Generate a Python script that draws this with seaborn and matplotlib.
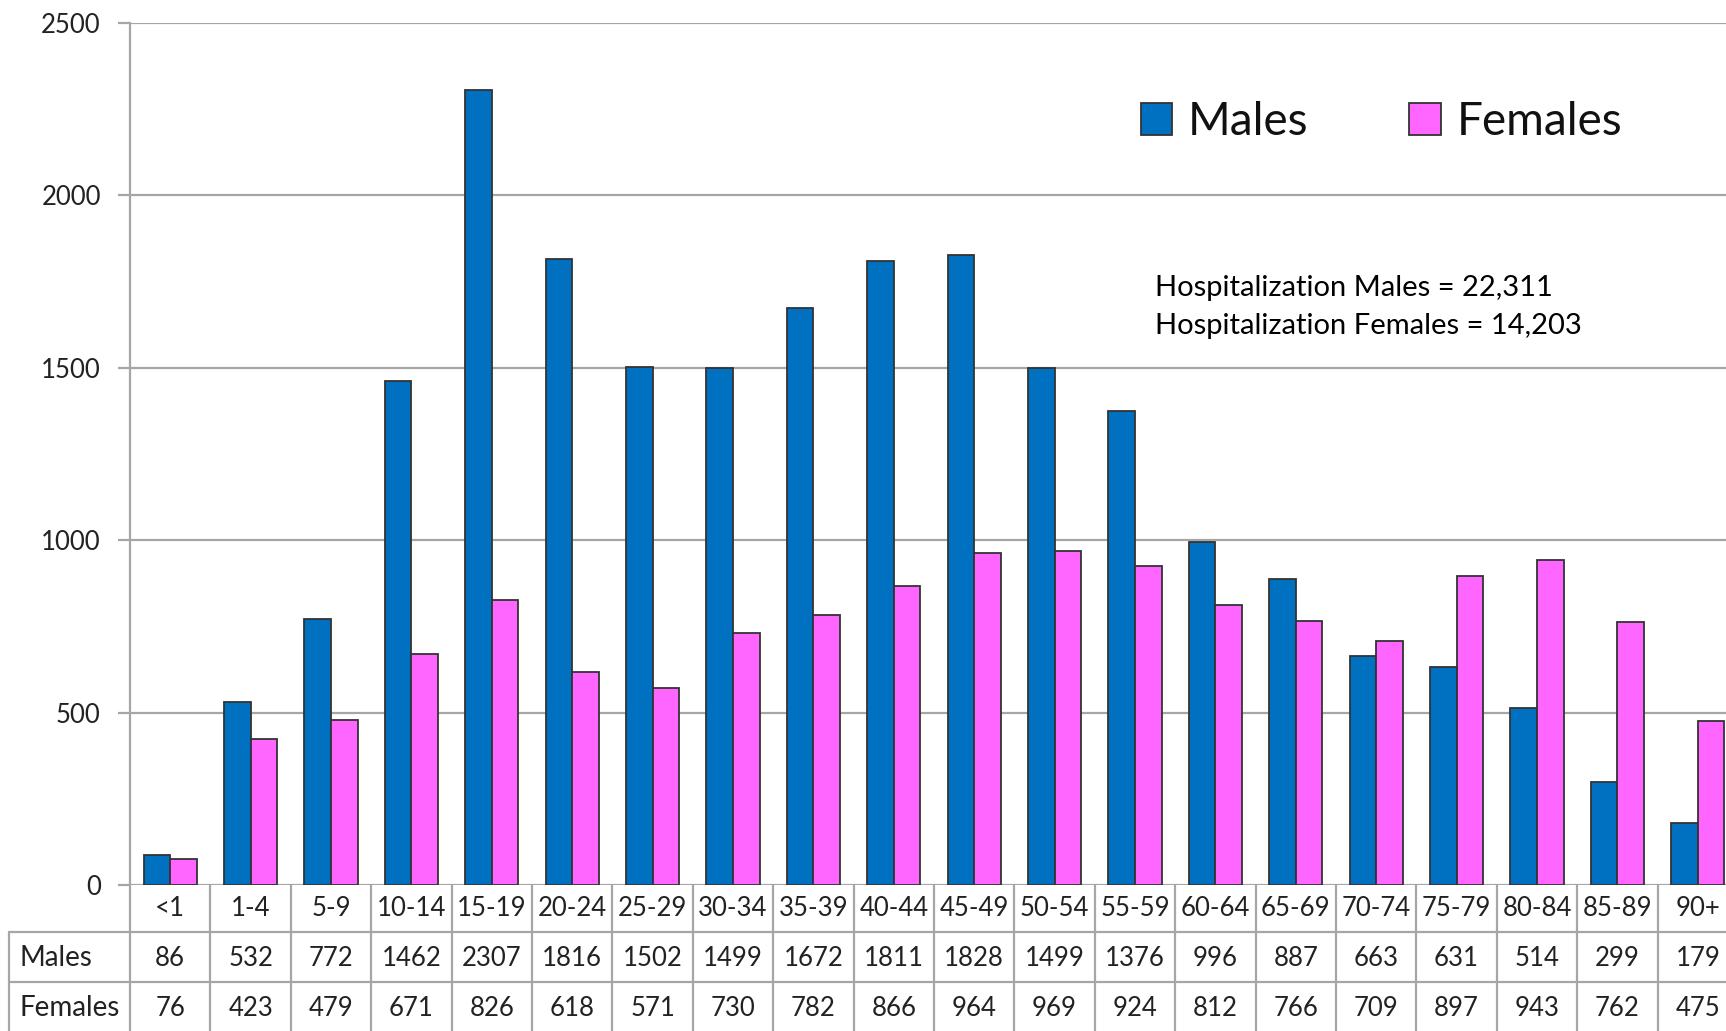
import matplotlib
matplotlib.use("Agg")
import matplotlib.pyplot as plt
import matplotlib.transforms as mtransforms
from matplotlib.patches import Patch
import seaborn as sns
import pandas as pd

# ---- data ----
age_groups = ["<1", "1-4", "5-9", "10-14", "15-19", "20-24", "25-29", "30-34", "35-39",
              "40-44", "45-49", "50-54", "55-59", "60-64", "65-69", "70-74", "75-79",
              "80-84", "85-89", "90+"]
males = [86, 532, 772, 1462, 2307, 1816, 1502, 1499, 1672, 1811, 1828, 1499, 1376,
         996, 887, 663, 631, 514, 299, 179]
females = [76, 423, 479, 671, 826, 618, 571, 730, 782, 866, 964, 969, 924,
           812, 766, 709, 897, 943, 762, 475]
series_names = ["Males", "Females"]
y_ticks = [0, 500, 1000, 1500, 2000, 2500]
note_lines = ["Hospitalization Males = 22,311", "Hospitalization Females = 14,203"]

BLUE = "#0070C0"
PINK = "#FF66FF"
EDGE = "#333333"
GRID = "#A6A6A6"
TXT = "#222222"

sns.set_theme(style="white")
plt.rcParams["font.family"] = ["Lato", "DejaVu Sans"]

W, H = 1726, 1031
fig = plt.figure(figsize=(W / 100, H / 100), dpi=100)

def fx(px):
    return px / W

def fy(py):
    return 1 - py / H

ax_left, ax_right = 130, 1738
ax_top, ax_bot = 23, 885
ax = fig.add_axes([fx(ax_left), fy(ax_bot), fx(ax_right - ax_left), (ax_bot - ax_top) / H])

df = pd.DataFrame({
    "age": age_groups * 2,
    "count": males + females,
    "sex": [series_names[0]] * len(age_groups) + [series_names[1]] * len(age_groups),
})

sns.barplot(data=df, x="age", y="count", hue="sex", order=age_groups,
            hue_order=series_names, palette=[BLUE, PINK], saturation=1,
            width=0.66, edgecolor=EDGE, linewidth=1.3, ax=ax, legend=False)

ax.set_xlim(-0.5, len(age_groups) - 0.5)
ax.set_ylim(0, 2500)
ax.set_yticks(y_ticks)
ax.set_yticklabels([str(t) for t in y_ticks], fontsize=18.5, color=TXT)
ax.set_xticks([])
ax.set_xlabel("")
ax.set_ylabel("")
ax.yaxis.grid(True, color=GRID, linewidth=1.6)
ax.set_axisbelow(True)
for s in ["top", "right", "bottom"]:
    ax.spines[s].set_visible(False)
ax.spines["left"].set_color(GRID)
ax.spines["left"].set_linewidth(1.6)
ax.tick_params(axis="y", direction="out", length=9, width=1.6, color=GRID, pad=12, left=True)

# ---- data table under the axis ----
trans = mtransforms.blended_transform_factory(ax.transData, fig.transFigure)
n = len(age_groups)
x_left_edge = -0.5
x_right_edge = n - 0.5
row_header_y, row_m_y, row_f_y = 909, 958, 1008
line_kw = dict(color=GRID, linewidth=1.6, clip_on=False)

# horizontal lines
ax.plot([x_left_edge, x_right_edge], [fy(932), fy(932)], transform=trans, **line_kw)
ax.plot([x_left_edge, x_right_edge], [fy(982), fy(982)], transform=trans, **line_kw)
fig.add_artist(plt.Line2D([fx(9), fx(ax_left)], [fy(932), fy(932)], color=GRID, linewidth=1.6))
fig.add_artist(plt.Line2D([fx(9), fx(ax_left)], [fy(982), fy(982)], color=GRID, linewidth=1.6))
fig.add_artist(plt.Line2D([fx(9), fx(9)], [fy(932), fy(1031)], color=GRID, linewidth=1.6))
# vertical lines
for i in range(n + 1):
    ax.plot([i - 0.5, i - 0.5], [fy(885), fy(1031)], transform=trans, **line_kw)

for i, lab in enumerate(age_groups):
    ax.text(i, fy(row_header_y), lab, transform=trans, ha="center", va="center",
            fontsize=18.5, color=TXT, clip_on=False)
    ax.text(i, fy(row_m_y), str(males[i]), transform=trans, ha="center", va="center",
            fontsize=18.5, color=TXT, clip_on=False)
    ax.text(i, fy(row_f_y), str(females[i]), transform=trans, ha="center", va="center",
            fontsize=18.5, color=TXT, clip_on=False)

fig.text(fx(19), fy(row_m_y), series_names[0], ha="left", va="center", fontsize=20, color=TXT)
fig.text(fx(19), fy(row_f_y), series_names[1], ha="left", va="center", fontsize=20, color=TXT)

# ---- legend ----
handles = [Patch(facecolor=BLUE, edgecolor=EDGE, linewidth=1.3),
           Patch(facecolor=PINK, edgecolor=EDGE, linewidth=1.3)]
leg = fig.legend(handles, series_names, loc="center",
                 bbox_to_anchor=(fx((1137 + 1626) / 2), fy(122)),
                 ncol=2, frameon=False, fontsize=33, handlelength=0.68, handleheight=0.68,
                 handletextpad=0.35, columnspacing=2.2)
for t in leg.get_texts():
    t.set_color("#111111")

# ---- note ----
fig.text(fx(1155), fy(288), note_lines[0], ha="left", va="center", fontsize=21, color="black")
fig.text(fx(1155), fy(326), note_lines[1], ha="left", va="center", fontsize=21, color="black")

fig.savefig("out.png", dpi=100)
